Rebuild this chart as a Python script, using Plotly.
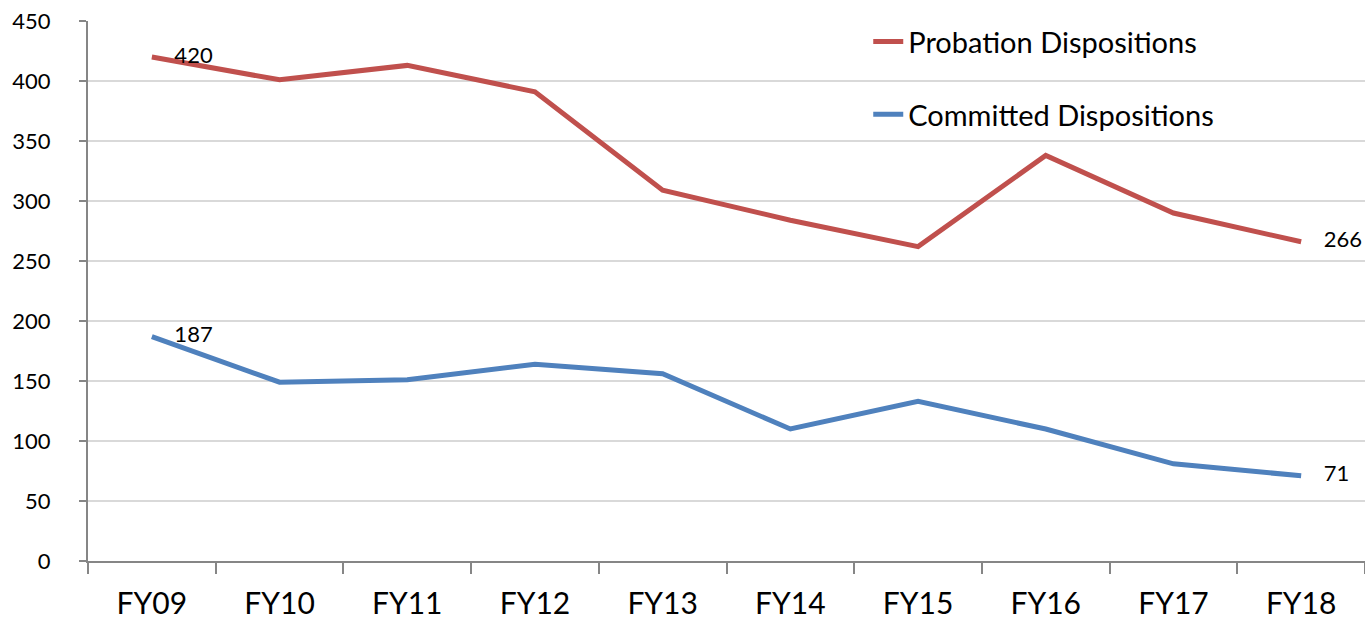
import plotly.graph_objects as go

years = ["FY09", "FY10", "FY11", "FY12", "FY13", "FY14", "FY15", "FY16", "FY17", "FY18"]
probation = [420, 401, 413, 391, 309, 284, 262, 338, 290, 266]
committed = [187, 149, 151, 164, 156, 110, 133, 110, 81, 71]

FONT = "Lato"

def end_labels(vals):
    return ["    " + str(v) if i in (0, len(vals) - 1) else "" for i, v in enumerate(vals)]

fig = go.Figure()
fig.add_trace(go.Scatter(
    x=years, y=probation, name="Probation Dispositions", mode="lines+text",
    line=dict(color="#C0504D", width=5),
    text=end_labels(probation), textposition="middle right",
    textfont=dict(family=FONT, size=22, color="black"),
    legendgroup="a", cliponaxis=False,
))
fig.add_trace(go.Scatter(
    x=years, y=committed, name="Committed Dispositions", mode="lines+text",
    line=dict(color="#4F81BD", width=5),
    text=end_labels(committed), textposition="middle right",
    textfont=dict(family=FONT, size=22, color="black"),
    legendgroup="b", cliponaxis=False,
))

fig.update_layout(
    width=1365, height=624,
    margin=dict(l=88, r=0, t=21, b=63, autoexpand=False),
    paper_bgcolor="white", plot_bgcolor="white",
    font=dict(family=FONT, color="black"),
    showlegend=True,
    legend=dict(
        x=0.611, y=1.009, xanchor="left", yanchor="top",
        font=dict(family=FONT, size=29, color="black"),
        tracegroupgap=32, bgcolor="rgba(0,0,0,0)",
        itemwidth=30,
    ),
    xaxis=dict(
        type="category", range=[-0.5, 9.5], automargin=False,
        showline=True, linecolor="#868686", linewidth=2,
        ticks="outside", ticklen=11, tickcolor="#868686", tickwidth=2,
        tickson="boundaries", showgrid=False,
        tickfont=dict(family=FONT, size=30, color="black"),
        ticklabelstandoff=15,
    ),
    yaxis=dict(
        range=[0, 450], dtick=50, automargin=False,
        showline=True, linecolor="#868686", linewidth=2,
        ticks="outside", ticklen=7, tickcolor="#868686", tickwidth=2,
        showgrid=True, gridcolor="#D9D9D9", gridwidth=2,
        zeroline=False,
        tickfont=dict(family=FONT, size=22, color="black"),
        ticklabelstandoff=24,
    ),
)

fig.write_html("out.html", config={"displayModeBar": False},
               post_script="document.body.style.margin='0';")
